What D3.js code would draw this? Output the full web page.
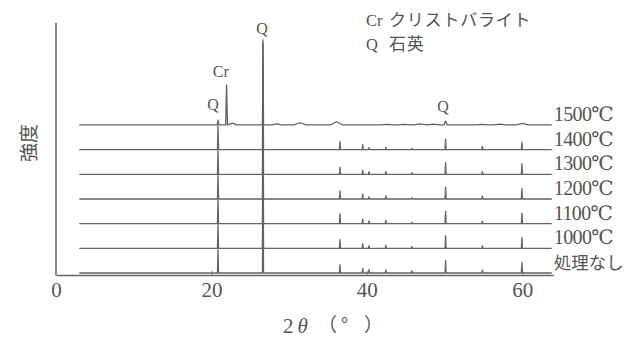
<!DOCTYPE html>
<html>
<head>
<meta charset="utf-8">
<script src="https://cdn.jsdelivr.net/npm/d3@7"></script>
<style>
  html, body { margin: 0; padding: 0; background: #fff; }
  svg { display: block; }
</style>
</head>
<body>
<svg id="chart" width="626" height="338"></svg>
<script>
// X-ray diffraction patterns of the samples, stacked by treatment temperature.
const seriesLabels = ["1500℃", "1400℃", "1300℃", "1200℃", "1100℃", "1000℃", "処理なし"];
const seriesOffsets = [6000, 5000, 4000, 3000, 2000, 1000, 0];

// Quartz reflections (2θ, degrees) seen in the lower patterns
const quartzAngles = [20.85, 26.64, 36.54, 39.47, 40.29, 42.45, 45.79, 50.14, 54.87, 59.96];
// Peak heights (counts above baseline) at the quartz angles, one row per pattern below 1500℃
const quartzHeights1400 = [960, 4300, 320, 200, 80, 90, 50, 420, 130, 300];
const quartzHeights1300 = [950, 4400, 290, 170, 110, 120, 70, 470, 110, 430];
const quartzHeights1200 = [960, 4500, 330, 200, 90, 130, 50, 480, 120, 420];
const quartzHeights1100 = [960, 4600, 400, 180, 110, 130, 60, 500, 100, 430];
const quartzHeights1000 = [960, 4600, 350, 190, 110, 130, 80, 500, 110, 430];
const quartzHeightsRaw  = [950, 4700, 330, 200, 150, 130, 90, 510, 120, 420];

// 1500℃ pattern: cristobalite dominates, quartz nearly gone
const peaks1500Angle  = [20.85, 21.95, 22.7, 26.64, 28.4, 31.4, 36.1, 42.6, 44.8, 46.9, 48.6, 50.14, 54.9, 57.1, 60.0];
const peaks1500Height = [200, 1620, 70, 3450, 40, 90, 130, 20, 25, 40, 35, 160, 20, 30, 60];
const peaks1500Width  = [0.1, 0.12, 0.6, 0.07, 0.6, 0.8, 0.8, 0.8, 0.8, 0.8, 0.8, 0.2, 0.8, 0.8, 0.8];

const scanStart = 3, scanEnd = 63.8;
const xTicks = [0, 20, 40, 60];

// Peak labels: [text, 2θ, height above the 1500℃ baseline]
const peakLabelText  = ["Q", "Cr", "Q", "Q"];
const peakLabelAngle = [20.2, 21.2, 26.5, 49.8];
const peakLabelLift  = [600, 1940, 3700, 520];

const legendKeys  = ["Cr", "Q"];
const legendNames = ["クリストバライト", "石英"];

const svg = d3.select("#chart");
const x = d3.scaleLinear().domain([0, 64]).range([56, 553.3]);
const y = d3.scaleLinear().domain([0, 10100]).range([273, 23.8]);

const ink = "#555";
const serif = "'Liberation Serif', 'DejaVu Serif', serif";
const cjk = "'Noto Sans CJK JP', sans-serif";

// Build each pattern as a list of peaks [2θ, height, halfWidth]
const narrow = 0.07;
const quartzRows = [quartzHeights1400, quartzHeights1300, quartzHeights1200,
                    quartzHeights1100, quartzHeights1000, quartzHeightsRaw];
const patterns = [peaks1500Angle.map((a, i) => [a, peaks1500Height[i], peaks1500Width[i]])]
  .concat(quartzRows.map(row => quartzAngles.map((a, i) => [a, row[i], narrow])));

function profile(peaks, offset) {
  const pts = [[scanStart, offset]];
  peaks.forEach(([a, h, w]) => {
    pts.push([a - w, offset], [a, offset + h], [a + w, offset]);
  });
  pts.push([scanEnd, offset]);
  return pts;
}

const line = d3.line().x(d => x(d[0])).y(d => y(d[1]));

// Axes frame
svg.append("line").attr("x1", x(0)).attr("x2", x(0)).attr("y1", 23).attr("y2", 275.5)
  .attr("stroke", "#666").attr("stroke-width", 1.6);

const xAxis = d3.axisBottom(x).tickValues(xTicks).tickFormat(d3.format("d"))
  .tickSizeInner(-4).tickSizeOuter(0).tickPadding(7);
const gx = svg.append("g").attr("transform", "translate(0,275)").call(xAxis);
gx.select(".domain").attr("stroke", "#666").attr("stroke-width", 1.6);
gx.selectAll(".tick line").attr("stroke", "#888").attr("stroke-width", 1);
gx.selectAll(".tick text").attr("fill", ink).style("font-family", serif).style("font-size", "21px");

// Patterns
svg.append("g").selectAll("path").data(patterns).join("path")
  .attr("d", (p, i) => line(profile(p, seriesOffsets[i])))
  .attr("fill", "none")
  .attr("stroke", "#636363")
  .attr("stroke-width", 1.3)
  .attr("stroke-linejoin", "round");

// Pattern labels at the right end
svg.append("g").selectAll("text").data(seriesLabels).join("text")
  .attr("x", x(scanEnd) + 2)
  .attr("y", (d, i) => y(seriesOffsets[i]) - 4)
  .attr("fill", ink)
  .style("font-family", (d, i) => i === 6 ? cjk : serif)
  .style("font-size", (d, i) => i === 6 ? "17.5px" : "20px")
  .style("letter-spacing", (d, i) => i === 6 ? "0px" : "-0.6px")
  .text(d => d);

// Peak labels
svg.append("g").selectAll("text").data(peakLabelText).join("text")
  .attr("x", (d, i) => x(peakLabelAngle[i]))
  .attr("y", (d, i) => y(seriesOffsets[0] + peakLabelLift[i]))
  .attr("text-anchor", "middle")
  .attr("fill", ink)
  .style("font-family", serif)
  .style("font-size", "16px")
  .text(d => d);

// Legend
const legend = svg.append("g");
legendKeys.forEach((k, i) => {
  legend.append("text").attr("x", 366).attr("y", 26 + i * 24)
    .attr("fill", ink).style("font-family", serif).style("font-size", "16.5px").text(k);
  legend.append("text").attr("x", 389).attr("y", 26 + i * 24)
    .attr("fill", ink).style("font-family", cjk).style("font-size", "17px")
    .style("letter-spacing", "0.8px").text(legendNames[i]);
});

// Axis titles
const xt = svg.append("text").attr("x", 283).attr("y", 333).attr("fill", ink)
  .style("font-family", serif).style("font-size", "21px");
xt.append("tspan").text("2");
xt.append("tspan").attr("dx", 4).style("font-style", "italic").text("θ");
const paren = svg.append("g").attr("fill", ink).style("font-family", cjk).style("font-size", "19px");
paren.append("text").attr("x", 318).attr("y", 332).text("（");
paren.append("text").attr("x", 341).attr("y", 332).text("°");
paren.append("text").attr("x", 364).attr("y", 332).text("）");

svg.append("text")
  .attr("transform", "translate(36,143) rotate(-90)")
  .attr("text-anchor", "middle")
  .attr("fill", ink)
  .style("font-family", cjk).style("font-size", "19px")
  .text("強度");
</script>
</body>
</html>
